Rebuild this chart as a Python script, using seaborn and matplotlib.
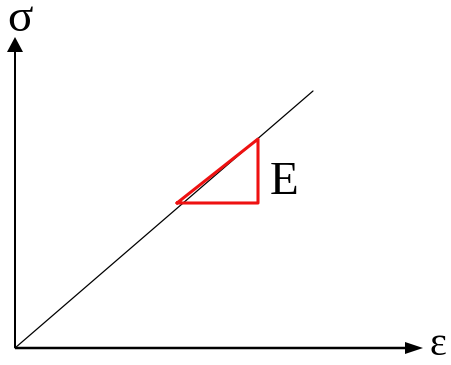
import pandas as pd
import seaborn as sns
import matplotlib.pyplot as plt

# Schematic stress-strain values (pixel-like units, origin at axes corner)
strain = [0, 298]
stress = [0, 257]

# Slope triangle for the modulus E
tri_strain = [162, 243, 243, 162]
tri_stress = [145, 145, 209, 145]

line_df = pd.DataFrame({'strain': strain, 'stress': stress})
tri_df = pd.DataFrame({'strain': tri_strain, 'stress': tri_stress})

sns.set_theme(style="white")
plt.rcParams['font.family'] = ['Liberation Serif', 'DejaVu Serif']
plt.rcParams['text.color'] = 'black'

fig = plt.figure(figsize=(4.52, 3.65), dpi=100)
ax = fig.add_axes([0, 0, 1, 1])
ax.set_xlim(-15, 437)
ax.set_ylim(-17, 348)
ax.axis('off')

# Elastic line
sns.lineplot(data=line_df, x='strain', y='stress', color='black', lw=0.9,
             ax=ax, sort=False, estimator=None)
# Red slope triangle
sns.lineplot(data=tri_df, x='strain', y='stress', color='#ee1111', lw=2.2,
             ax=ax, sort=False, estimator=None)

# Axis arrows
ax.arrow(0, 0, 0, 311, width=2, head_width=16, head_length=15,
         length_includes_head=True, color='black', lw=0)
ax.arrow(0, 0, 408, 0, width=2.5, head_width=12, head_length=18,
         length_includes_head=True, color='black', lw=0)

# Labels
ax.text(5, 328, 'σ', fontsize=34, ha='center', va='center')
ax.text(423, -7, 'ε', fontsize=29, ha='center', va='baseline')
ax.text(269, 165, 'E', fontsize=34, ha='center', va='center')

plt.savefig('out.png', dpi=100)
